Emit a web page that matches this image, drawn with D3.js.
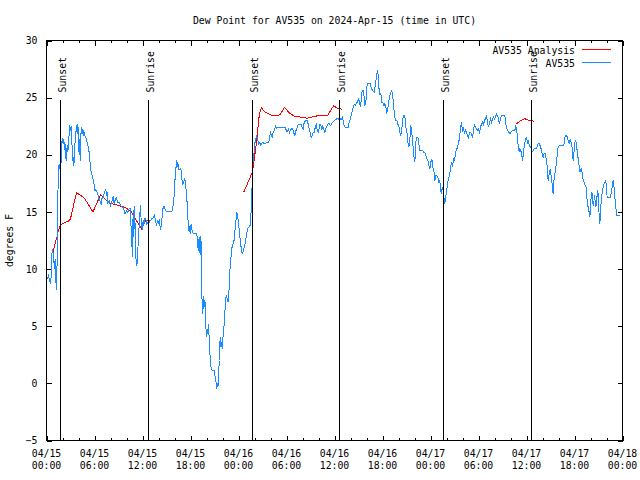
<!DOCTYPE html>
<html><head><meta charset="utf-8">
<script src="https://cdn.jsdelivr.net/npm/d3@7"></script>
<style>
body{margin:0;background:#fff}
svg{display:block}
text{font-family:"DejaVu Sans Mono","Liberation Mono",monospace;font-size:9.8px;fill:#000}
</style></head><body>
<svg id="c" width="640" height="480"></svg>
<script>
const title = "Dew Point for AV535 on 2024-Apr-15 (time in UTC)";
const yLabel = "degrees F";
const startTime = "2024-04-15T00:00:00Z";
const endTime = "2024-04-18T00:00:00Z";
const yDomain = [-5, 30];
const yTickValues = [-5, 0, 5, 10, 15, 20, 25, 30];
const seriesNames = ["AV535 Analysis", "AV535"];
const seriesColors = ["#ff0000", "#1a8cff"];
const sunsetHours = [1.66, 25.71, 49.54];
const sunriseHours = [12.66, 36.54, 60.54];
const sunLineTop = 24.8;

// [hours since start, dew point °F]; null = gap
const analysis = [
[0.8,11.5],[1.3,12.8],[1.5,13.4],[1.75,13.9],[2.75,14.2],[3.0,14.4],[3.75,16.7],[4.75,16.2],[5.8,15.0],[6.75,16.5],[7.8,15.8],[8.8,15.6],[9.8,15.4],[10.5,15.1],[11.9,13.5],[12.4,14.3],[13.1,14.2],
null,
[24.67,16.75],[25.75,18.5],[26.2,20.8],[26.6,23.5],[26.85,24.1],[27.4,23.7],[28.0,23.5],[28.6,23.4],[29.2,23.5],[29.75,24.15],[30.3,23.7],[30.9,23.4],[32.6,23.2],[33.8,23.4],[35.1,23.4],[35.9,24.3],[36.3,24.1],[36.9,24.0],
null,
[58.75,22.7],[59.25,23.0],[59.8,23.15],[60.3,23.0],[60.9,22.95]
];

const observed = [
[0.08,9.15],[0.25,9.44],[0.375,9.0],[0.5,8.71],[0.58,9.29],[0.71,11.77],[0.83,11.48],[0.92,10.75],[1.0,10.02],[1.08,10.9],[1.17,9.0],[1.25,8.13],[1.33,10.75],[1.42,16.29],[1.5,19.06],[1.58,18.77],[1.67,19.21],[1.75,18.92],[1.83,19.35],[1.92,21.1],[2.0,21.48],[2.08,20.96],[2.17,21.4],[2.25,20.38],[2.33,20.96],[2.42,19.65],[2.5,19.5],[2.58,20.81],[2.67,20.23],[2.75,21.1],[2.83,21.83],[2.92,22.56],[3.0,22.12],[3.08,22.48],[3.17,21.25],[3.25,19.5],[3.33,19.79],[3.42,19.06],[3.5,20.23],[3.58,21.25],[3.67,21.98],[3.75,22.56],[3.83,21.83],[3.92,22.71],[4.0,21.54],[4.08,19.94],[4.17,21.4],[4.25,19.5],[4.33,22.42],[4.42,21.83],[4.5,22.27],[4.58,21.69],[4.67,22.12],[4.75,21.69],[4.92,21.54],[5.0,21.25],[5.17,20.81],[5.33,20.23],[5.5,18.92],[5.58,18.48],[5.75,18.04],[5.92,17.6],[6.0,16.88],[6.17,16.93],[6.33,16.73],[6.5,16.29],[6.67,16.0],[6.83,15.71],[6.92,16.15],[7.08,16.29],[7.25,16.73],[7.42,16.93],[7.5,16.44],[7.58,16.73],[7.67,15.71],[7.83,16.0],[8.0,15.56],[8.17,15.86],[8.25,16.15],[8.33,16.29],[8.42,15.86],[8.5,15.71],[8.58,16.15],[8.67,16.0],[8.75,16.29],[8.83,16.0],[8.92,15.86],[9.08,15.86],[9.25,15.56],[9.42,15.42],[9.58,15.42],[9.75,14.98],[9.83,14.83],[10.0,15.13],[10.17,14.98],[10.33,15.27],[10.5,15.27],[10.58,13.38],[10.67,12.21],[10.75,11.04],[10.83,15.13],[10.92,12.79],[11.0,15.56],[11.08,13.67],[11.17,11.04],[11.25,10.3],[11.33,10.46],[11.42,11.63],[11.5,13.08],[11.58,13.67],[11.67,14.83],[11.75,15.56],[11.83,14.25],[11.92,13.67],[12.0,13.38],[12.08,14.25],[12.17,13.81],[12.25,14.4],[12.42,14.4],[12.5,13.96],[12.58,14.1],[12.67,13.96],[12.83,14.1],[13.0,14.25],[13.17,14.4],[13.33,14.48],[13.5,14.69],
[13.63,14.3],[13.75,13.8],[13.875,14.25],[14.0,13.95],[14.1,14.4],[14.25,13.4],[14.4,14.1],[14.54,15.27],[14.7,15.5],[14.875,15.1],[15.08,15.03],[15.29,15.03],[15.5,15.03],[15.7,15.1],[15.83,15.56],[15.96,16.43],[16.04,17.45],[16.125,18.77],[16.2,18.9],[16.29,19.5],[16.375,18.9],[16.46,19.2],[16.54,18.7],[16.71,18.7],[16.79,18.8],[16.875,18.3],[16.96,17.6],[17.04,17.45],[17.2,17.75],[17.29,17.9],[17.375,17.6],[17.46,16.87],[17.54,16.0],[17.625,15.7],[17.71,13.8],[17.79,13.37],[17.875,13.8],[17.96,13.08],[18.04,13.8],[18.125,13.95],[18.2,13.37],[18.375,13.08],[18.625,13.08],[18.79,13.08],[18.875,12.5],[18.96,11.6],[19.04,12.5],[19.125,12.8],[19.2,11.2],[19.29,12.9],[19.375,11.3],[19.42,7.8],[19.5,6.08],[19.58,7.68],[19.67,6.5],[19.75,7.25],[19.83,7.1],[19.9,5.2],[20.0,4.04],[20.08,4.77],[20.17,4.3],[20.25,5.2],[20.33,4.04],[20.42,2.73],[20.5,1.56],[20.58,1.4],[20.71,1.12],[20.83,1.12],[20.96,1.12],[21.04,0.68],[21.125,0.55],[21.21,0.0],[21.29,-0.48],[21.375,0.0],[21.46,-0.2],[21.54,1.27],[21.625,2.0],[21.7,4.04],[21.79,3.16],[21.875,3.6],[21.96,3.0],[22.04,3.75],[22.125,4.9],[22.2,5.05],[22.29,6.2],[22.375,6.95],[22.46,7.7],[22.54,7.55],[22.625,7.25],[22.71,7.1],[22.79,8.1],[22.875,8.27],[22.96,10.6],[23.04,10.75],[23.125,11.9],[23.2,11.9],[23.29,12.06],[23.375,12.5],[23.46,12.5],[23.54,13.37],[23.625,13.5],[23.7,14.4],[23.79,14.97],[23.875,14.68],[23.96,14.25],[24.04,13.66],[24.125,13.37],[24.2,12.6],[24.29,12.06],[24.375,11.77],[24.46,11.3],[24.54,11.47],[24.625,11.6],[24.7,11.9],[24.79,12.06],[24.875,12.5],[24.96,12.8],[25.04,13.2],[25.125,13.37],[25.2,13.66],[25.29,13.66],[25.375,13.8],[25.46,13.8],[25.54,14.55],[25.625,15.7],
[25.71,17.6],[25.79,19.2],[25.92,19.93],[26.0,20.9],[26.125,21.25],[26.25,21.7],[26.375,21.4],[26.54,20.95],[26.67,21.1],[26.79,20.8],[26.96,21.04],[27.125,21.04],[27.29,20.95],[27.46,21.04],[27.625,21.04],[27.79,21.1],[27.875,21.4],[28.0,22.03],[28.125,21.68],[28.2,21.5],[28.33,21.97],[28.46,22.12],[28.625,22.5],[28.75,22.32],[28.875,22.4],[29.04,22.4],[29.25,22.4],[29.46,22.4],[29.67,22.4],[29.875,22.4],[30.0,22.03],[30.125,22.03],[30.25,22.26],[30.375,21.97],[30.5,22.2],[30.625,22.26],[30.79,22.26],[30.92,21.9],[31.04,21.68],[31.17,22.12],[31.29,22.2],[31.375,22.56],[31.5,22.62],[31.67,22.62],[31.83,22.62],[31.96,22.4],[32.08,22.26],[32.2,22.79],[32.375,22.99],[32.58,22.99],[32.71,22.7],[32.83,22.32],[32.96,21.9],[33.08,21.5],[33.2,21.68],[33.33,21.9],[33.46,21.97],[33.625,22.5],[33.75,22.7],[33.83,22.12],[33.96,21.97],[34.08,22.26],[34.2,22.7],[34.29,22.56],[34.42,22.2],[34.54,22.5],[34.67,22.2],[34.79,21.97],[34.92,22.32],[35.04,22.5],[35.2,22.7],[35.375,22.7],[35.5,22.56],[35.625,22.7],[35.79,22.85],[35.96,22.99],[36.125,23.08],[36.29,23.14],[36.46,23.14],[36.625,23.08],[36.75,23.14],[36.875,23.08],[37.0,23.28],[37.08,22.99],[37.2,22.56],[37.33,22.4],[37.46,22.4],[37.58,22.4],[37.7,22.4],[37.79,22.7],[37.92,22.99],[38.04,23.28],[38.17,23.72],[38.29,24.0],[38.42,24.36],[38.54,24.45],
[38.625,24.36],[38.83,24.6],[39.04,24.9],[39.25,24.16],[39.375,25.04],[39.46,25.62],[39.625,25.62],[39.79,24.3],[39.96,24.9],[40.08,26.2],[40.29,26.2],[40.46,26.2],[40.625,25.76],[40.79,25.62],[40.96,25.47],[41.125,26.2],[41.25,26.93],[41.375,27.37],[41.46,26.93],[41.54,25.9],[41.67,25.33],[41.79,25.4],[41.92,24.6],[42.04,24.6],[42.17,24.3],[42.29,24.45],[42.42,24.3],[42.5,23.58],[42.625,23.87],[42.75,24.45],[42.875,25.04],[43.04,25.47],[43.17,25.62],[43.29,25.04],[43.42,24.0],[43.54,23.28],[43.67,22.99],[43.79,22.99],[43.9,22.7],[44.04,22.56],[44.17,21.97],[44.29,21.68],[44.42,22.26],[44.54,23.14],[44.67,23.43],[44.79,23.43],[44.92,22.4],[45.04,22.12],[45.17,21.1],[45.29,20.66],[45.42,21.39],[45.54,22.56],[45.67,21.83],[45.79,20.95],[45.92,19.93],[46.04,19.35],[46.17,21.1],[46.29,21.54],[46.42,21.54],[46.54,20.95],[46.67,20.37],[46.79,20.37],[46.92,20.37],[47.04,20.37],[47.17,20.22],[47.29,20.22],[47.42,19.93],[47.54,19.64],[47.67,19.5],[47.79,19.06],[47.92,18.77],[48.04,19.35],[48.17,19.64],[48.29,18.91],[48.42,18.62],[48.54,17.75],[48.67,18.18],[48.79,18.18],[48.92,18.04],[49.04,17.6],[49.17,17.75],[49.25,16.87],[49.375,16.58],[49.46,17.16],[49.54,17.0],[49.625,16.72],[49.7,16.14],[49.79,15.7],[49.875,16.29],[50.0,16.72],[50.125,17.45],[50.25,17.89],[50.375,18.18],[50.5,18.77],[50.625,19.35],[50.75,18.91],[50.875,19.64],[51.0,19.5],[51.125,20.08],[51.25,20.51],[51.375,20.51],[51.5,21.1],[51.625,21.39],[51.75,22.4],[51.875,22.85],[52.0,21.97],[52.125,22.4],[52.25,21.83],
[52.375,22.13],[52.5,21.98],[52.625,21.7],[52.75,21.4],[52.875,21.98],[53.0,21.98],[53.125,21.83],[53.25,21.48],[53.375,22.13],[53.5,22.7],[53.625,22.42],[53.75,22.27],[53.875,22.13],[54.0,22.27],[54.125,21.83],[54.25,22.42],[54.375,22.7],[54.5,22.85],[54.625,22.63],[54.75,23.0],[54.875,23.15],[55.0,23.44],[55.125,22.85],[55.25,22.42],[55.375,22.77],[55.5,23.15],[55.625,22.85],[55.75,23.15],[55.875,23.29],[56.0,23.15],[56.125,23.29],[56.25,23.58],[56.375,23.44],[56.5,23.15],[56.625,22.7],[56.75,23.15],[56.875,23.44],[57.04,23.44],[57.2,23.44],[57.33,23.29],[57.42,22.7],[57.54,22.27],[57.67,22.13],[57.79,21.98],[57.92,21.83],[58.04,21.98],[58.17,22.07],[58.29,22.13],[58.42,22.07],[58.54,22.13],[58.67,22.56],[58.75,22.13],[58.83,21.83],[58.92,21.1],[59.0,20.38],[59.08,20.52],[59.17,20.23],[59.25,20.52],[59.33,20.23],[59.42,19.94],[59.5,19.5],[59.58,19.94],[59.67,20.52],[59.75,20.96],[59.875,21.25],[59.96,21.54],[60.04,21.4],[60.125,21.1],[60.2,21.25],[60.29,20.96],[60.375,20.8],[60.5,20.67],[60.625,20.52],[60.7,20.23],[60.83,20.38],[60.96,20.52],[61.08,20.52],[61.2,20.52],[61.33,20.67],[61.46,20.96],[61.58,21.0],[61.7,20.8],[61.83,20.52],[61.96,20.08],[62.08,19.8],[62.2,20.08],[62.33,20.08],[62.46,19.65],[62.58,19.06],[62.7,17.75],[62.83,18.33],[62.96,18.77],[63.08,18.19],[63.2,17.46],[63.33,16.58],[63.46,18.04],[63.58,18.48],[63.7,19.06],[63.83,19.94],[63.96,20.67],[64.08,20.8],[64.25,20.8],[64.42,20.8],[64.58,20.8],[64.7,20.96],[64.83,21.6],[64.96,21.69],[65.08,21.6],[65.2,21.25],[65.33,20.96],[65.46,21.4],[65.58,21.1],[65.7,20.67],[65.83,19.5],[65.96,20.38],[66.08,21.25],[66.2,21.1],[66.33,20.38],[66.46,19.65],[66.58,19.06],[66.7,18.48],[66.83,18.77],[66.96,18.48],[67.08,17.75],[67.2,17.6],[67.33,17.31],[67.46,17.17],[67.58,16.0],[67.7,15.42],[67.83,14.98],[67.92,14.54],[68.0,15.42],[68.08,16.29],[68.17,16.73],[68.25,16.29],[68.33,15.56],[68.42,15.86],[68.5,16.44],[68.58,16.0],[68.67,15.42],[68.75,16.0],[68.83,16.44],[68.92,16.88],[69.0,16.0],[69.08,14.69],[69.17,13.96],[69.25,14.98],[69.33,15.86],[69.42,16.44],[69.5,16.88],[69.58,17.17],[69.7,17.46],[69.83,17.6],[69.92,17.75],[70.0,17.02],[70.08,16.29],[70.2,16.23],[70.33,16.23],[70.46,16.23],[70.58,16.58],[70.67,17.02],[70.75,17.31],[70.83,17.75],[70.92,17.31],[71.0,16.73],[71.08,16.0],[71.17,15.42],[71.25,14.69],[71.375,14.69],[71.54,14.69],[71.7,14.69]
];

const svg = d3.select("#c");
const L = 46.5, R = 622.5, T = 40.5, B = 440.5;
const t0 = new Date(startTime).getTime();
const x = d3.scaleUtc().domain([new Date(startTime), new Date(endTime)]).range([L, R]);
const y = d3.scaleLinear().domain(yDomain).range([B, T]);
const hx = h => x(new Date(t0 + h * 3600e3));

const majorX = d3.utcHour.every(6).range(new Date(startTime), new Date(t0 + 72 * 3600e3 + 1));
const minorX = d3.utcHour.every(2).range(new Date(startTime), new Date(t0 + 72 * 3600e3 + 1))
  .filter(d => d.getUTCHours() % 6 !== 0);

function styleAxis(g) {
  g.select(".domain").remove();
  g.selectAll("line").attr("stroke", "#000").attr("shape-rendering", "crispEdges");
  g.attr("font-family", null).attr("font-size", null);
}

// ticks (inward, mirrored)
svg.append("g").attr("transform", `translate(0,${B})`)
  .call(d3.axisBottom(x).tickValues(majorX).tickSize(-5).tickFormat("")).call(styleAxis);
svg.append("g").attr("transform", `translate(0,${B})`)
  .call(d3.axisBottom(x).tickValues(minorX).tickSize(-2.5).tickFormat("")).call(styleAxis);
svg.append("g").attr("transform", `translate(0,${T})`)
  .call(d3.axisTop(x).tickValues(majorX).tickSize(-5).tickFormat("")).call(styleAxis);
svg.append("g").attr("transform", `translate(0,${T})`)
  .call(d3.axisTop(x).tickValues(minorX).tickSize(-2.5).tickFormat("")).call(styleAxis);
const yl = svg.append("g").attr("transform", `translate(${L},0)`)
  .call(d3.axisLeft(y).tickValues(yTickValues).tickSize(-5).tickPadding(9).tickFormat(d3.format("d"))).call(styleAxis);
yl.selectAll("text").attr("fill", "#000");
svg.append("g").attr("transform", `translate(${R},0)`)
  .call(d3.axisRight(y).tickValues(yTickValues).tickSize(-5).tickFormat("")).call(styleAxis);

// x tick labels (two lines)
const fmtDate = d3.utcFormat("%m/%d"), fmtTime = d3.utcFormat("%H:%M");
const xl = svg.append("g").selectAll("text").data(majorX).join("text")
  .attr("text-anchor", "middle").attr("x", d => x(d));
xl.append("tspan").attr("x", d => x(d)).attr("y", 457).text(d => fmtDate(d));
xl.append("tspan").attr("x", d => x(d)).attr("y", 469).text(d => fmtTime(d));

// clip
svg.append("clipPath").attr("id", "clip").append("rect")
  .attr("x", L).attr("y", T).attr("width", R - L).attr("height", B - T);

const line = d3.line().defined(d => d != null).x(d => hx(d[0])).y(d => y(d[1]));
const plot = svg.append("g").attr("clip-path", "url(#clip)");
plot.append("path").datum(analysis).attr("d", line).attr("fill", "none")
  .attr("stroke", seriesColors[0]).attr("stroke-width", 1).attr("shape-rendering", "crispEdges");
plot.append("path").datum(observed).attr("d", line).attr("fill", "none")
  .attr("stroke", seriesColors[1]).attr("stroke-width", 1).attr("shape-rendering", "crispEdges");

// sunset / sunrise markers
const sunEvents = sunsetHours.map(h => ({h, label: "Sunset"}))
  .concat(sunriseHours.map(h => ({h, label: "Sunrise"})));
const sg = svg.append("g");
sg.selectAll("line").data(sunEvents).join("line")
  .attr("x1", d => Math.round(hx(d.h)) + 0.5).attr("x2", d => Math.round(hx(d.h)) + 0.5)
  .attr("y1", y(sunLineTop)).attr("y2", B)
  .attr("stroke", "#000").attr("shape-rendering", "crispEdges");
sg.selectAll("text").data(sunEvents).join("text")
  .attr("transform", d => `translate(${Math.round(hx(d.h)) + 5.5},${y(sunLineTop) - 7.5}) rotate(-90)`)
  .attr("text-anchor", "start").text(d => d.label);

// border
svg.append("rect").attr("x", L).attr("y", T).attr("width", R - L).attr("height", B - T)
  .attr("fill", "none").attr("stroke", "#000").attr("shape-rendering", "crispEdges");

// title and axis label
svg.append("text").attr("x", (L + R) / 2).attr("y", 24).attr("text-anchor", "middle").text(title);
svg.append("text").attr("transform", `translate(13,${(T + B) / 2}) rotate(-90)`)
  .attr("text-anchor", "middle").text(yLabel);

// legend
const lg = svg.append("g").selectAll("g").data(seriesNames).join("g");
lg.append("text").attr("x", 575).attr("y", (d, i) => 54 + 13 * i).attr("text-anchor", "end").text(d => d);
lg.append("line").attr("x1", 582).attr("x2", 611)
  .attr("y1", (d, i) => 49.5 + 13 * i).attr("y2", (d, i) => 49.5 + 13 * i)
  .attr("stroke", (d, i) => seriesColors[i]).attr("shape-rendering", "crispEdges");
</script>
</body></html>
